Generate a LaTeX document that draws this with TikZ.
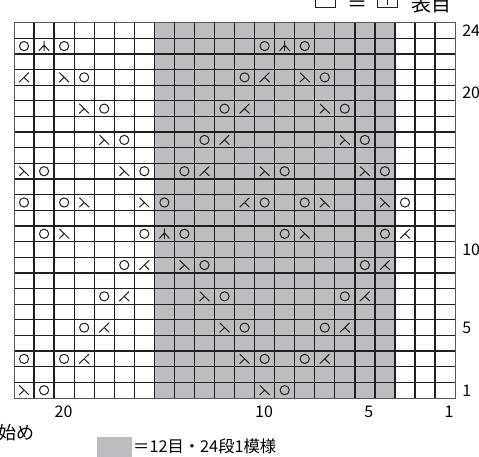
\documentclass[tikz,border=0pt]{standalone}
\usepackage{fontspec}
\newfontfamily\jpfont{Noto Sans CJK JP}
\usetikzlibrary{positioning}
\usepackage{xcolor}
\definecolor{patgray}{RGB}{188,189,192}
\definecolor{ink}{RGB}{35,31,32}

\begin{document}
\begin{tikzpicture}[x=20.05pt, y=15.64pt, font=\jpfont,
        sym/.style={ink, line width=1pt, line cap=round, line join=round},
        kake/.pic={\draw[sym] (0,0) circle[radius=4.6pt];},
        migi/.pic={\draw[sym] (-4.6pt,4.6pt) -- (4.8pt,-4.6pt)
                              (0.1pt,0pt) -- (-4.8pt,-4.6pt);},
        hidari/.pic={\draw[sym] (4.6pt,4.6pt) -- (-4.8pt,-4.6pt)
                                (-0.1pt,0pt) -- (4.8pt,-4.6pt);},
        naka/.pic={\draw[sym] (0pt,5pt) -- (0pt,-4.6pt)
                              (-5pt,-4.6pt) -- (0pt,1pt) -- (5pt,-4.6pt);},
        rowno/.style={anchor=base west, inner sep=0pt, font=\jpfont\fontsize{16}{16}\selectfont},
        colno/.style={anchor=base east, inner sep=0pt, font=\jpfont\fontsize{16}{16}\selectfont},
        legbox/.style={draw=ink, line width=0.8pt, minimum width=20pt, minimum height=17pt, inner sep=0pt}]

        \clip (-14pt,-59pt) rectangle (465pt,398pt);

        % --- Pattern repeat ---
        \fill[patgray] (7,0) rectangle (19,24);

        % --- Grid ---
        \foreach \i in {1,...,21}
            \draw[ink, line width=1.3pt] (\i,0) -- (\i,24);
        \foreach \r in {1,...,23}
            \draw[ink, line width=1.3pt] (0,\r) -- (22,\r);
        \draw[gray!70!black, line width=0.8pt] (0,0) rectangle (22,24);

        % --- Stitches (column from left / row) ---
        \foreach \c/\r in {1/1, 13/1, 0/3, 2/3, 12/3, 14/3, 3/5, 11/5, 15/5,
                4/7, 10/7, 16/7, 5/9, 9/9, 17/9, 1/11, 6/11, 8/11, 13/11, 18/11,
                0/13, 2/13, 7/13, 12/13, 14/13, 19/13, 1/15, 6/15, 8/15, 13/15, 18/15,
                5/17, 9/17, 17/17, 4/19, 10/19, 16/19, 3/21, 11/21, 15/21,
                0/23, 2/23, 12/23, 14/23}
            \pic at (\c+0.5,\r-0.5) {kake};
        \foreach \c/\r in {0/1, 12/1, 11/3, 10/5, 9/7, 8/9, 2/11, 14/11,
                3/13, 6/13, 15/13, 18/13, 0/15, 5/15, 12/15, 17/15,
                4/17, 16/17, 3/19, 15/19, 2/21, 14/21}
            \pic at (\c+0.5,\r-0.5) {migi};
        \foreach \c/\r in {3/3, 15/3, 4/5, 16/5, 5/7, 17/7, 6/9, 18/9, 19/11,
                11/13, 9/15, 10/17, 11/19, 0/21, 12/21}
            \pic at (\c+0.5,\r-0.5) {hidari};
        \foreach \c/\r in {7/11, 1/23, 13/23}
            \pic at (\c+0.5,\r-0.5) {naka};

        % --- Row and column numbers ---
        \foreach \r in {1,5,10,20,24}
            \node[rowno] (row\r) at (22,\r-0.5) [xshift=7pt, yshift=-5.9pt] {\r};
        \foreach \n in {1,5,10,20}
            \node[colno] (col\n) at (23-\n,0) [xshift=-1.5pt, yshift=-20pt] {\n};

        % --- Legend ---
        \node[legbox] (omote) at (311pt,399pt) {};
        \node[anchor=base, inner sep=0pt, font=\jpfont\fontsize{20}{20}\selectfont]
            (eq) at (343pt,386.5pt) {＝};
        \node[legbox] (knit) at (373pt,399pt) {};
        \draw[ink, line width=0.9pt] (knit.north) ++(0,-3pt) -- ([yshift=3pt]knit.south);
        \node[anchor=base west, inner sep=0pt, font=\jpfont\fontsize{20}{20}\selectfont]
            (omotetxt) at (397pt,386.5pt) {表目};

        \node[anchor=base east, inner sep=0pt, font=\jpfont\fontsize{18}{18}\selectfont]
            (start) at (21pt,-42pt) {始め};
        \node[fill=patgray, minimum width=35pt, minimum height=20pt, inner sep=0pt]
            (swatch) at (100.5pt,-49pt) {};
        \node[anchor=base west, inner sep=0pt, font=\jpfont\fontsize{16.3}{16.3}\selectfont]
            (repeat) at (119pt,-54.5pt) {＝12目・24段1模様};

    \end{tikzpicture}
\end{document}
